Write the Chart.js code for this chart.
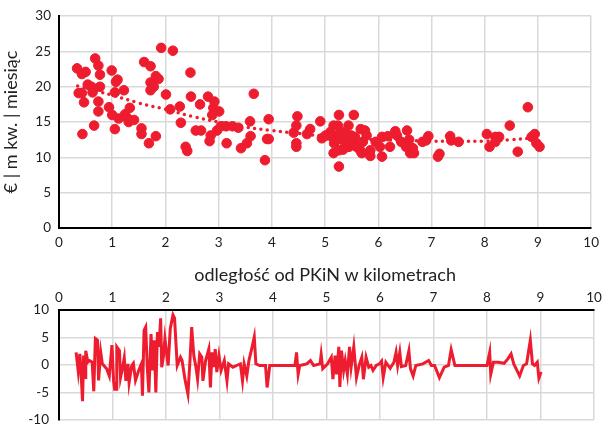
<!DOCTYPE html>
<html>
<head>
<meta charset="utf-8">
<script src="https://cdn.jsdelivr.net/npm/chart.js@4"></script>
<style>
  html, body { margin: 0; background: #fff; overflow: hidden; }
  #wrap { position: relative; width: 606px; height: 424px; overflow: hidden; }
  #top { position: absolute; left: 0; top: 0; }
  #bottom { position: absolute; left: 0; top: 290px; }
</style>
</head>
<body>
<div id="wrap">
  <canvas id="top" width="606" height="290"></canvas>
  <canvas id="bottom" width="606" height="148"></canvas>
</div>
<script>
const distance = [0.34, 0.43, 0.50, 0.37, 0.43, 0.47, 0.44, 0.54, 0.61, 0.63, 0.68, 0.74, 0.77, 0.77, 0.74, 0.74, 0.66,
  0.99, 1.10, 1.07, 1.05, 0.94, 1.00, 1.12, 1.05, 1.22, 1.24, 1.33, 1.31, 1.41, 1.28, 1.55, 1.55, 1.69, 1.82,
  1.60, 1.72, 1.82, 1.87, 1.72, 1.78, 1.72, 1.92, 2.14, 2.01, 2.09, 2.27, 2.29, 2.47, 2.48, 2.65, 2.57, 2.67,
  2.38, 2.41, 2.80, 2.92, 2.90, 3.01, 2.88, 2.85, 2.83, 2.97, 3.04, 3.15, 3.14, 3.26, 3.37, 3.59, 3.60, 3.53,
  3.42, 3.66, 3.87, 3.94, 3.91, 3.94, 4.41, 4.48, 4.46, 4.46, 4.46, 4.72, 4.66, 4.91, 4.94, 5.01, 5.16, 5.24,
  5.26, 5.54, 5.44, 5.14, 5.21, 5.17, 5.27, 5.34, 5.42, 5.49, 5.53, 5.16, 5.26, 5.34, 5.45, 5.26, 5.59, 5.66,
  5.69, 5.67, 5.75, 5.71, 5.78, 5.85, 5.85, 5.95, 6.03, 6.07, 6.07, 6.18, 6.22, 6.32, 6.35, 6.43, 6.54, 6.58,
  6.52, 6.60, 6.65, 6.67, 6.83, 6.90, 6.94, 7.12, 7.15, 7.35, 7.37, 7.51, 8.04, 8.09, 8.20, 8.27, 8.20, 8.47,
  8.62, 8.81, 8.88, 8.94, 8.97, 9.03, 5.10, 5.37, 5.56, 5.06];
const price = [22.6, 21.8, 22.1, 19.1, 19.1, 17.8, 13.3, 20.3, 20.0, 19.2, 24.0, 23.0, 21.7, 20.0, 17.9, 16.5, 14.5,
  22.3, 21.0, 20.7, 19.2, 17.1, 16.0, 15.5, 14.0, 19.5, 16.1, 17.0, 15.0, 15.3, 15.6, 14.1, 13.3, 12.0, 13.0,
  23.5, 22.9, 21.5, 21.1, 20.6, 20.0, 19.5, 25.5, 25.1, 18.9, 16.8, 17.2, 14.9, 22.0, 18.6, 17.5, 13.8, 13.8,
  11.5, 10.9, 18.6, 17.9, 17.0, 16.5, 16.0, 13.1, 12.3, 13.8, 14.4, 12.0, 14.4, 14.4, 14.2, 15.1, 13.0, 12.0,
  11.3, 19.0, 9.6, 15.4, 12.6, 12.6, 13.5, 15.8, 14.5, 12.0, 11.5, 14.0, 13.3, 15.1, 12.7, 13.1, 14.5, 14.5,
  16.0, 16.0, 14.5, 12.9, 12.4, 12.0, 13.3, 12.4, 12.9, 13.1, 12.4, 10.6, 11.0, 11.1, 11.5, 8.7, 11.5, 11.0,
  10.6, 14.0, 13.8, 12.2, 13.1, 11.0, 10.2, 12.2, 11.5, 12.9, 10.1, 13.0, 11.5, 13.7, 13.1, 12.2, 13.8, 12.5,
  11.5, 10.6, 11.3, 10.6, 12.2, 12.4, 13.0, 10.1, 10.5, 13.0, 12.4, 12.2, 13.3, 11.5, 12.9, 12.9, 12.2, 14.5,
  10.8, 17.1, 12.9, 13.3, 12.0, 11.5, 13.6, 13.6, 12.9, 13.1];

const trendX = [0.35, 1, 1.5, 2, 2.5, 3, 3.5, 4, 4.5, 5, 5.5, 6, 6.5, 7, 7.5, 8, 8.5, 9];
const trendY = [20.1, 18.8, 17.7, 16.8, 15.8, 15.0, 14.3, 13.8, 13.4, 13.0, 12.7, 12.5, 12.4, 12.3, 12.3, 12.3, 12.5, 12.8];

const residX = [0.32, 0.36, 0.39, 0.41, 0.44, 0.46, 0.49, 0.50, 0.54, 0.57, 0.62, 0.65, 0.68, 0.72, 0.74, 0.78, 0.81,
  0.89, 0.94, 0.99, 1.02, 1.04, 1.07, 1.08, 1.13, 1.15, 1.19, 1.22, 1.25, 1.29, 1.31, 1.36, 1.39, 1.43, 1.49,
  1.54, 1.56, 1.59, 1.62, 1.65, 1.68, 1.72, 1.75, 1.78, 1.81, 1.84, 1.87, 1.90, 1.92, 1.95, 1.98, 2.01, 2.04,
  2.08, 2.13, 2.16, 2.19, 2.21, 2.27, 2.30, 2.36, 2.41, 2.45, 2.48, 2.52, 2.56, 2.59, 2.63, 2.67, 2.69, 2.74,
  2.80, 2.83, 2.86, 2.89, 2.92, 2.95, 2.99, 3.03, 3.09, 3.14, 3.17, 3.25, 3.32, 3.39, 3.43, 3.46, 3.51, 3.55,
  3.61, 3.65, 3.68, 3.75, 3.86, 3.89, 3.94, 4.41, 4.44, 4.47, 4.50, 4.63, 4.70, 4.76, 4.88, 4.90, 4.93, 5.02,
  5.09, 5.12, 5.16, 5.19, 5.23, 5.25, 5.28, 5.32, 5.35, 5.39, 5.43, 5.46, 5.51, 5.56, 5.61, 5.66, 5.69, 5.74,
  5.79, 5.83, 5.87, 5.93, 5.99, 6.03, 6.06, 6.11, 6.19, 6.26, 6.30, 6.33, 6.37, 6.40, 6.48, 6.54, 6.57, 6.62,
  6.67, 6.80, 6.91, 6.96, 7.02, 7.11, 7.20, 7.28, 7.33, 7.40, 8.00, 8.05, 8.07, 8.12, 8.21, 8.32, 8.39, 8.45,
  8.50, 8.61, 8.68, 8.74, 8.81, 8.85, 8.89, 8.94, 8.97, 9.01];
const residY = [2.3, -1.2, 2.0, -1.0, -6.6, 1.7, -2.3, 2.6, 0.5, 0.8, 0.5, -4.8, 4.8, 4.5, -2.8, 2.3, 0.2,
  -0.7, -2.0, 3.6, -2.9, -4.4, -4.4, 3.3, 2.6, -2.3, -0.4, 1.3, -2.9, 0.2, -3.2, -0.1, 0.3, -2.8, -1.0,
  0.2, -5.6, 6.3, 6.9, -0.4, -5.0, 5.6, -1.0, 4.5, -5.0, 6.0, 3.3, 8.5, -0.4, 1.4, 4.8, 2.3, -0.1,
  6.6, 9.1, 8.5, 3.3, -0.1, 1.4, 0.8, -2.9, -5.3, 1.1, 6.9, 1.7, -0.4, -2.6, 2.0, 1.4, -2.9, 0.8,
  2.9, -4.1, 2.3, -0.4, 2.9, -1.3, 1.7, -1.0, 0.8, -2.9, 0.2, -0.4, -0.1, 0.2, -2.9, 0.2, -2.0, 0.8,
  3.3, 5.1, 0.2, -0.1, -0.1, -4.1, -0.1, -0.1, 2.3, -1.7, -0.1, 0.2, 0.8, -0.1, 0.2, 1.9, -0.7, 0.2,
  1.4, -2.6, 1.7, -1.7, 3.3, -4.0, 2.6, -1.0, 0.8, -1.7, 3.3, -0.4, 3.3, -2.3, -0.1, 1.4, -2.6, 1.4,
  -0.4, -0.1, -1.0, -0.1, 0.2, 0.7, -2.3, 0.5, -0.6, 0.5, 2.3, -0.1, 2.3, -0.3, -0.1, 2.6, -0.7, -2.0,
  -0.1, 0.2, 0.8, -0.1, -0.1, -2.3, -0.4, -0.1, 2.8, -0.1, -0.1, 2.3, -1.7, 0.5, 0.5, 0.3, 1.1, 2.0,
  0.2, -2.0, -0.1, 0.2, 4.5, 0.2, -0.1, 0.5, -2.4, -1.3];

const red = "rgb(237, 28, 46)";
const gridColor = "#d9d9d9";
const textColor = "#222";
Chart.defaults.font.family = "Lato, 'Open Sans', sans-serif";
Chart.defaults.color = textColor;
Chart.defaults.animation = false;

const toPoints = (xs, ys) => xs.map((x, i) => ({ x: x, y: ys[i] }));

new Chart(document.getElementById("top"), {
  type: "scatter",
  data: {
    datasets: [
      {
        data: toPoints(distance, price),
        backgroundColor: red,
        borderColor: red,
        pointRadius: 4.8,
        order: 2,
      },
      {
        type: "line",
        data: toPoints(trendX, trendY),
        borderColor: red,
        borderWidth: 3.5,
        borderDash: [0, 6.5],
        borderCapStyle: "round",
        pointRadius: 0,
        tension: 0.4,
        fill: false,
        order: 1,
      },
    ],
  },
  options: {
    responsive: false,
    layout: { padding: { top: 15, right: 7, left: 0, bottom: 0 } },
    plugins: { legend: { display: false }, tooltip: { enabled: false } },
    scales: {
      x: {
        type: "linear",
        min: 0,
        max: 10,
        ticks: { stepSize: 1, padding: 7, font: { size: 13.5 } },
        grid: { color: gridColor, lineWidth: 1.5, drawTicks: false },
        border: { color: "#000", width: 2 },
        title: { display: true, text: "odległość od PKiN w kilometrach", font: { size: 18 }, padding: { top: 9 } },
        afterFit: (scale) => { scale.height = 62; },
      },
      y: {
        min: 0,
        max: 30,
        ticks: { stepSize: 5, padding: 8, font: { size: 13.5 } },
        grid: { color: gridColor, lineWidth: 1.5, drawTicks: false },
        border: { color: "#000", width: 2 },
        title: { display: true, text: "€ | m kw. | miesiąc", font: { size: 18 }, padding: { top: 0, bottom: 2 } },
        afterFit: (scale) => { scale.width = 59; },
      },
    },
  },
});

new Chart(document.getElementById("bottom"), {
  type: "line",
  data: {
    datasets: [
      {
        data: toPoints(residX, residY),
        borderColor: red,
        borderWidth: 3,
        pointRadius: 0,
        tension: 0,
        fill: false,
      },
    ],
  },
  options: {
    responsive: false,
    layout: { padding: { top: 0, right: 12, left: 0, bottom: 5 } },
    plugins: { legend: { display: false }, tooltip: { enabled: false } },
    scales: {
      x: {
        type: "linear",
        position: "top",
        min: 0,
        max: 10,
        ticks: { stepSize: 1, padding: 4, font: { size: 13.5 } },
        grid: { color: gridColor, lineWidth: 1.5, drawTicks: false },
        border: { color: "#000", width: 2 },
        afterFit: (scale) => { scale.height = 20; },
      },
      y: {
        min: -10,
        max: 10,
        ticks: { stepSize: 5, padding: 10, font: { size: 13.5 } },
        grid: { color: gridColor, lineWidth: 1.5, drawTicks: false },
        border: { color: "#000", width: 2 },
        afterFit: (scale) => { scale.width = 59; },
      },
    },
  },
});
</script>
</body>
</html>
